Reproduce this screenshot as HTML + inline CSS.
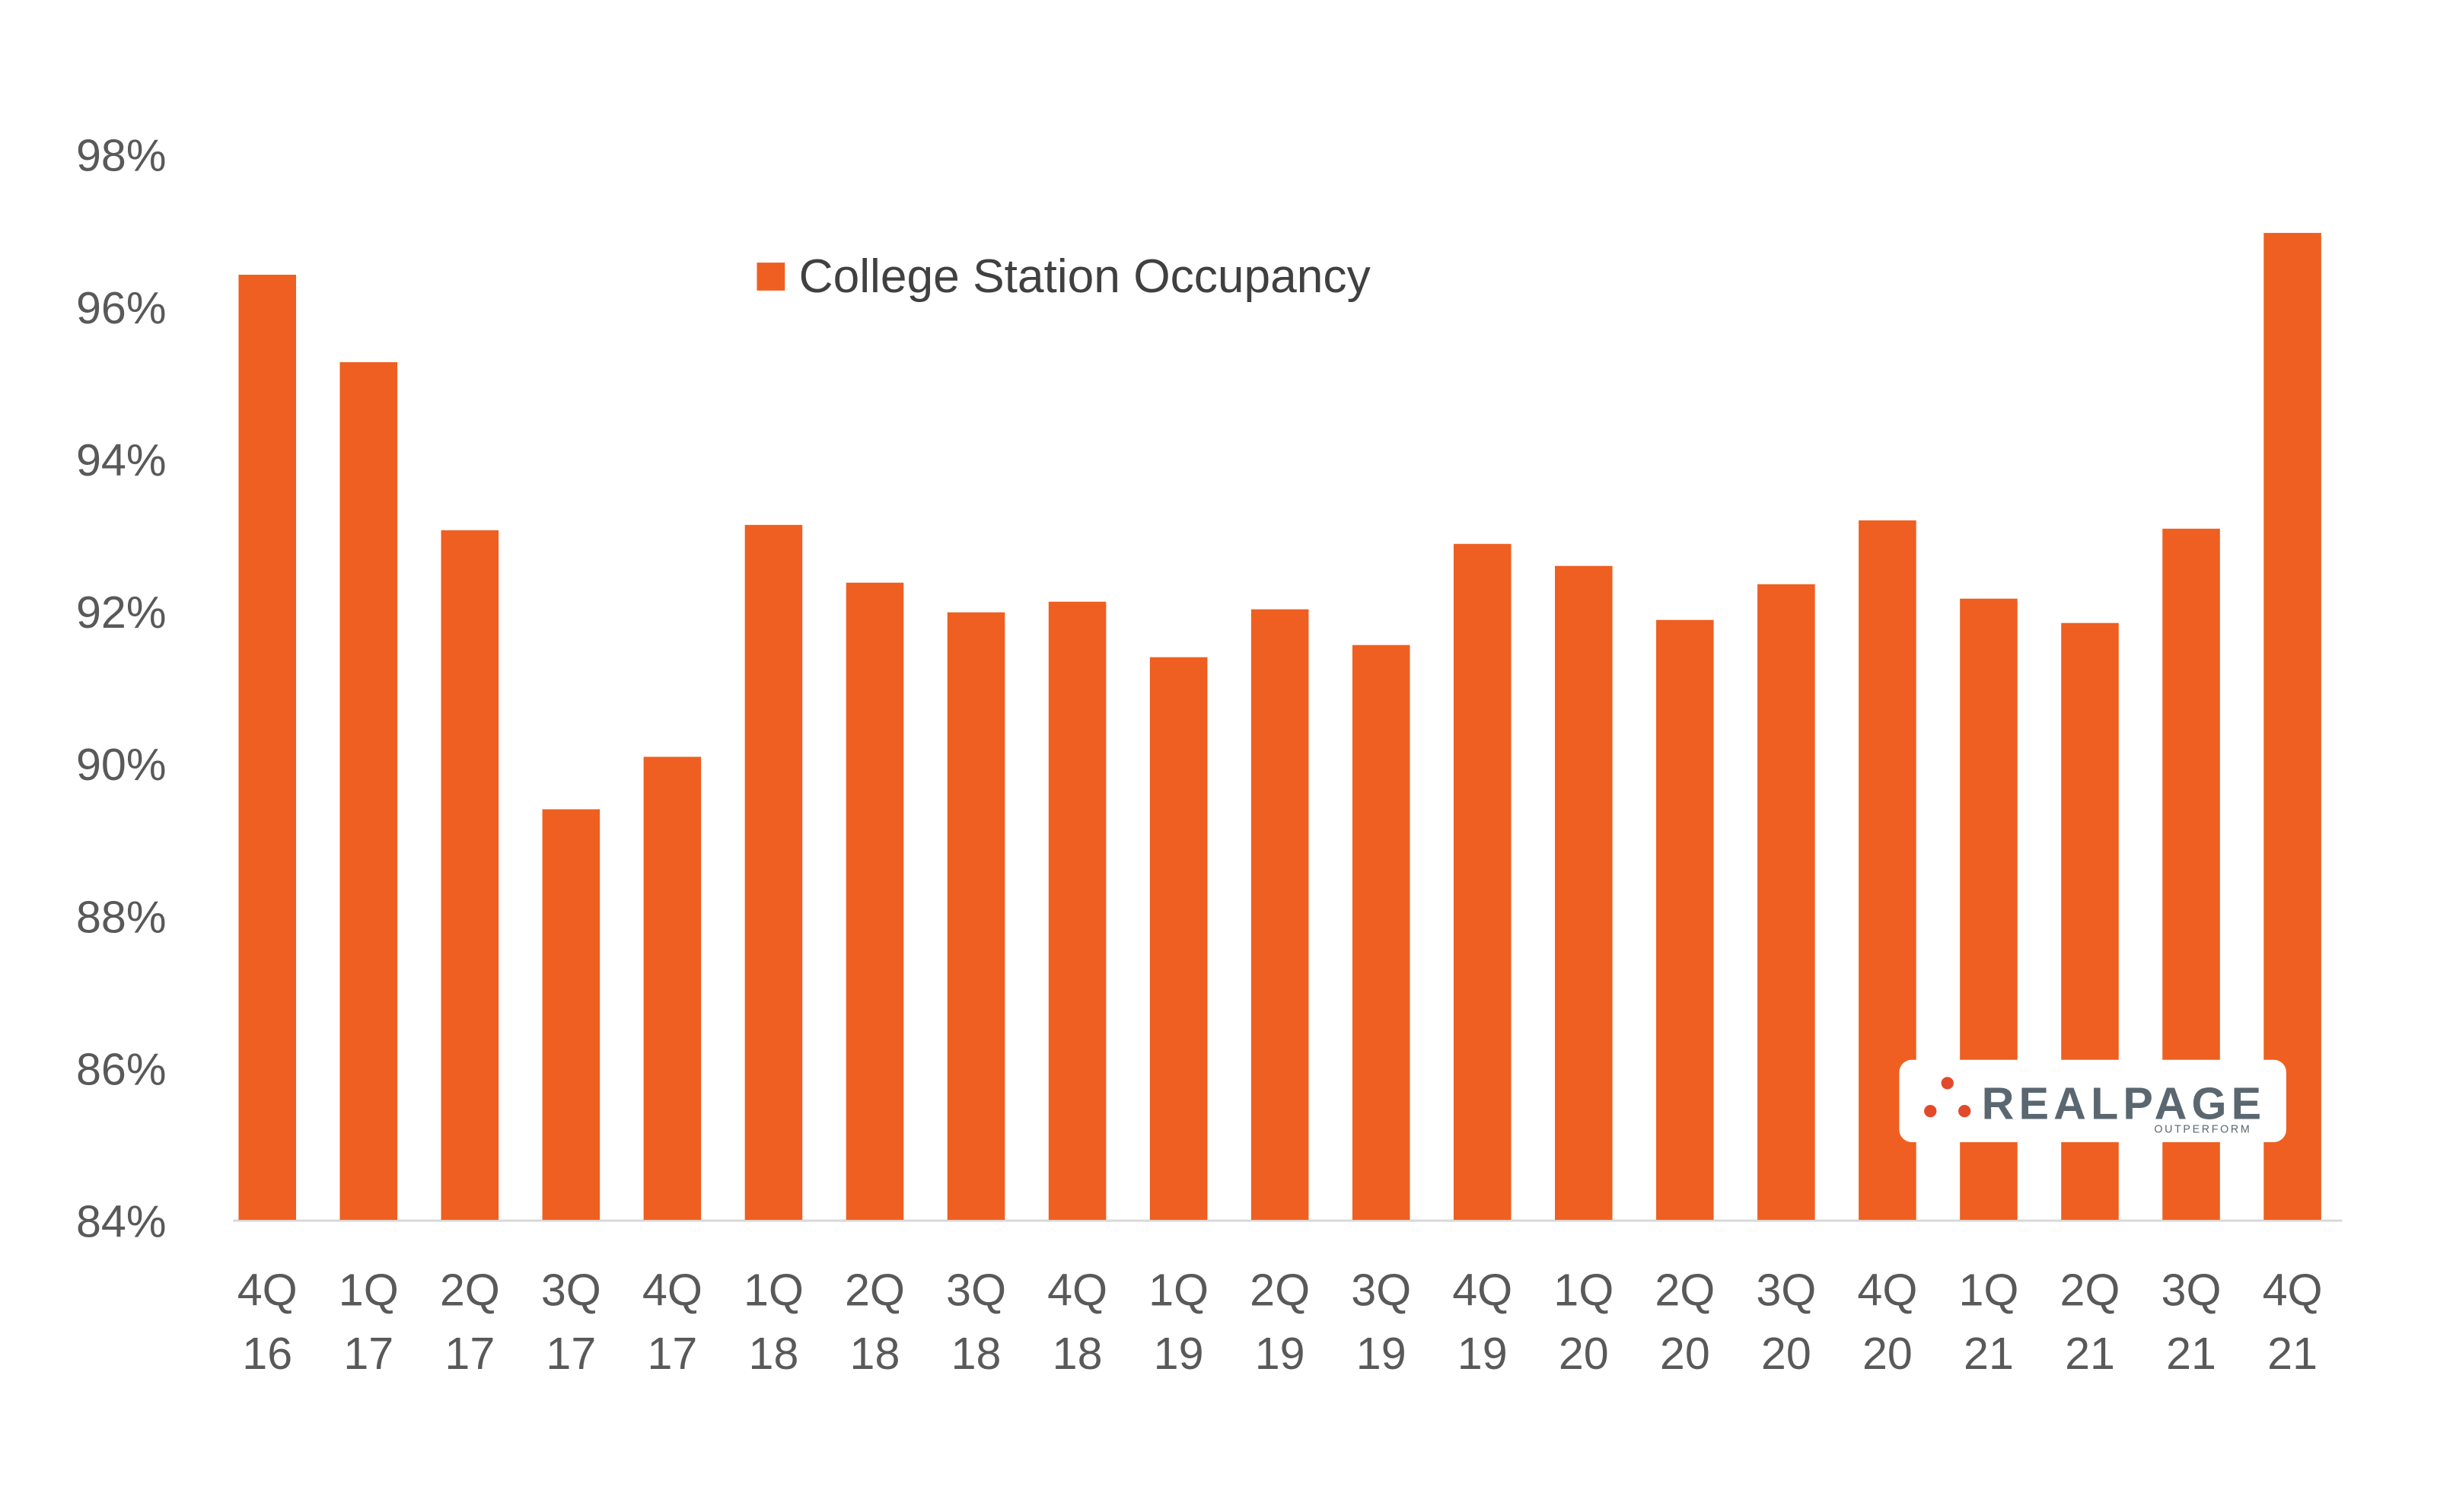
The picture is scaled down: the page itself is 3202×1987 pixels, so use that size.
<!DOCTYPE html>
<html><head><meta charset="utf-8"><style>
html,body{margin:0;padding:0;background:#fff;}
svg{display:block;}
</style></head><body>
<svg width="3202" height="1987" viewBox="0 0 1568 973" preserveAspectRatio="none" xmlns="http://www.w3.org/2000/svg" font-family="Liberation Sans, sans-serif">
<g fill="#595959" font-size="29" text-anchor="end">
<text x="107" y="110">98%</text>
<text x="107" y="208">96%</text>
<text x="107" y="306">94%</text>
<text x="107" y="404">92%</text>
<text x="107" y="502">90%</text>
<text x="107" y="600">88%</text>
<text x="107" y="698">86%</text>
<text x="107" y="796">84%</text>
</g>
<line x1="150" y1="785.5" x2="1507" y2="785.5" stroke="#d9d9d9" stroke-width="1.5"/>
<g fill="#ee5f21" id="bars"></g>
<rect x="487" y="169" width="18" height="18" fill="#ee5f21"/>
<text x="514" y="188" font-size="30.5" fill="#404040">College Station Occupancy</text>
<g fill="#595959" font-size="29" text-anchor="middle" id="xl"></g>
<rect x="1222" y="682" width="249" height="53" rx="8" fill="#fff"/>
<circle cx="1253" cy="697" r="4" fill="#e24a2a"/>
<circle cx="1242" cy="715" r="4" fill="#e24a2a"/>
<circle cx="1264" cy="715" r="4" fill="#e24a2a"/>
<text x="1275" y="720" font-size="29" font-weight="bold" fill="#5a6770" letter-spacing="3">REALPAGE</text>
<text x="1386" y="729" font-size="7" fill="#5a6770" letter-spacing="1.3">OUTPERFORM</text>
<script>
var v=[12.43,11.28,9.07,5.40,6.09,9.14,8.38,7.99,8.13,7.40,8.03,7.56,8.89,8.60,7.89,8.36,9.20,8.17,7.85,9.09,12.98];
var l=[["4Q","16"],["1Q","17"],["2Q","17"],["3Q","17"],["4Q","17"],["1Q","18"],["2Q","18"],["3Q","18"],["4Q","18"],["1Q","19"],["2Q","19"],["3Q","19"],["4Q","19"],["1Q","20"],["2Q","20"],["3Q","20"],["4Q","20"],["1Q","21"],["2Q","21"],["3Q","21"],["4Q","21"]];
var ns="http://www.w3.org/2000/svg",b=document.getElementById("bars"),x=document.getElementById("xl");
for(var i=0;i<21;i++){var c=172+i*65.15,y=785-v[i]*48.93;
var r=document.createElementNS(ns,"rect");r.setAttribute("x",c-18.5);r.setAttribute("y",y);r.setAttribute("width",37);r.setAttribute("height",785-y);b.appendChild(r);
for(var k=0;k<2;k++){var t=document.createElementNS(ns,"text");t.setAttribute("x",c);t.setAttribute("y",k?881:840);t.textContent=l[i][k];x.appendChild(t);}}
</script>
</svg>
</body></html>
